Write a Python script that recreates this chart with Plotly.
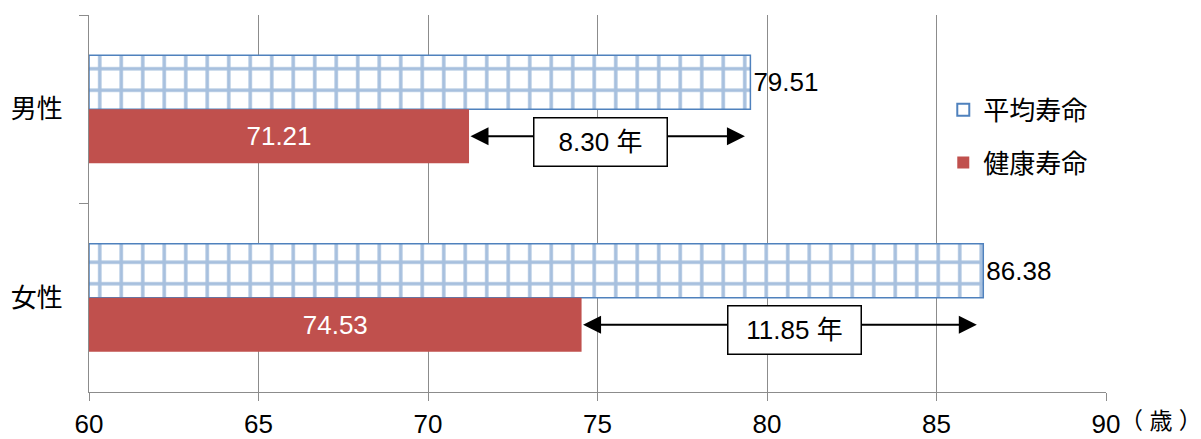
import plotly.graph_objects as go

# 平均寿命と健康寿命（男女別）
categories = ["男性", "女性"]
life_expectancy = [79.51, 86.38]     # 平均寿命
healthy_life = [71.21, 74.53]        # 健康寿命
gap_labels = ["8.30 年", "11.85 年"]  # 差
x_ticks = [60, 65, 70, 75, 80, 85, 90]
X_MIN = 60

BLUE = "#4F81BD"
RED = "#C0504D"
GRID = "#8C8C8C"
FONT = "Liberation Sans, Arial, Noto Sans CJK JP, sans-serif"
FS = 26
BAR_W = 0.287

fig = go.Figure()

# 平均寿命: 白地に青い格子模様（軸の起点 60 から描画）
fig.add_trace(go.Bar(
    y=categories, x=[v - X_MIN for v in life_expectancy], base=X_MIN,
    orientation="h", width=BAR_W, offset=-BAR_W,
    marker=dict(color="white", line=dict(color=BLUE, width=1.5),
                pattern=dict(shape="+", fgcolor=BLUE, bgcolor="white",
                             size=21.5, solidity=0.3, fillmode="overlay")),
    text=[f"{v:.2f}" for v in life_expectancy], textposition="outside",
    textfont=dict(size=FS, color="black", family=FONT),
    cliponaxis=False, showlegend=False, name="平均寿命",
))

# 健康寿命
fig.add_trace(go.Bar(
    y=categories, x=[v - X_MIN for v in healthy_life], base=X_MIN,
    orientation="h", width=BAR_W, offset=0,
    marker=dict(color=RED, line=dict(width=0)),
    text=[f"{v:.2f}" for v in healthy_life], textposition="inside",
    insidetextanchor="middle",
    textfont=dict(size=FS, color="white", family=FONT),
    showlegend=False, name="健康寿命",
))

# 凡例用
fig.add_trace(go.Bar(y=[None], x=[None], orientation="h", name="平均寿命",
                     marker=dict(color="white", line=dict(color=BLUE, width=2)),
                     legendgroup="a"))
fig.add_trace(go.Bar(y=[None], x=[None], orientation="h", name="健康寿命",
                     marker=dict(color=RED, line=dict(width=0)),
                     legendgroup="b"))

# 差を示す両矢印とラベル
arrow_ends = [79.35, 86.19]
label_x = [75.10, 80.80]
for i in range(len(categories)):
    yc = i + BAR_W / 2
    fig.add_annotation(
        x=arrow_ends[i], y=yc, ax=healthy_life[i], ay=yc,
        xref="x", yref="y", axref="x", ayref="y",
        text="", showarrow=True, arrowhead=2, arrowside="end+start",
        arrowsize=1.8, arrowwidth=2, arrowcolor="black",
        standoff=0, startstandoff=0,
    )
    fig.add_annotation(
        x=label_x[i], y=yc + 0.03, xref="x", yref="y",
        text=gap_labels[i], showarrow=False,
        font=dict(size=FS, color="black", family=FONT),
        bgcolor="white", bordercolor="black", borderwidth=1.5,
        width=130, height=45, borderpad=1,
    )

# 単位
fig.add_annotation(
    x=1.0118, y=-0.078, xref="paper", yref="paper",
    xanchor="left", yanchor="middle", showarrow=False,
    text="（ 歳 ）", font=dict(size=FS - 3, color="black", family=FONT),
)

fig.update_layout(
    width=1201, height=439,
    margin=dict(l=89, r=95, t=15, b=47),
    paper_bgcolor="white", plot_bgcolor="white",
    barmode="overlay",
    font=dict(family=FONT, size=FS, color="black"),
    legend=dict(x=0.840, y=0.678, xanchor="left", yanchor="middle",
                bgcolor="rgba(0,0,0,0)", tracegroupgap=16,
                font=dict(size=FS, family=FONT)),
    xaxis=dict(range=[X_MIN, 90], tickvals=x_ticks, showgrid=True,
               gridcolor=GRID, gridwidth=1, showline=True, linecolor=GRID,
               linewidth=1.2, ticks="outside", ticklen=8, tickcolor=GRID,
               ticklabelstandoff=1, automargin=False,
               tickfont=dict(size=FS, family=FONT), zeroline=False),
    yaxis=dict(categoryorder="array", categoryarray=categories,
               autorange="reversed", tickson="boundaries",
               showline=True, linecolor=GRID, linewidth=1.2,
               ticks="outside", ticklen=9, tickcolor=GRID,
               ticklabelstandoff=20, showgrid=False, automargin=False,
               tickfont=dict(size=FS, family=FONT)),
)

fig.write_html("out.html")
